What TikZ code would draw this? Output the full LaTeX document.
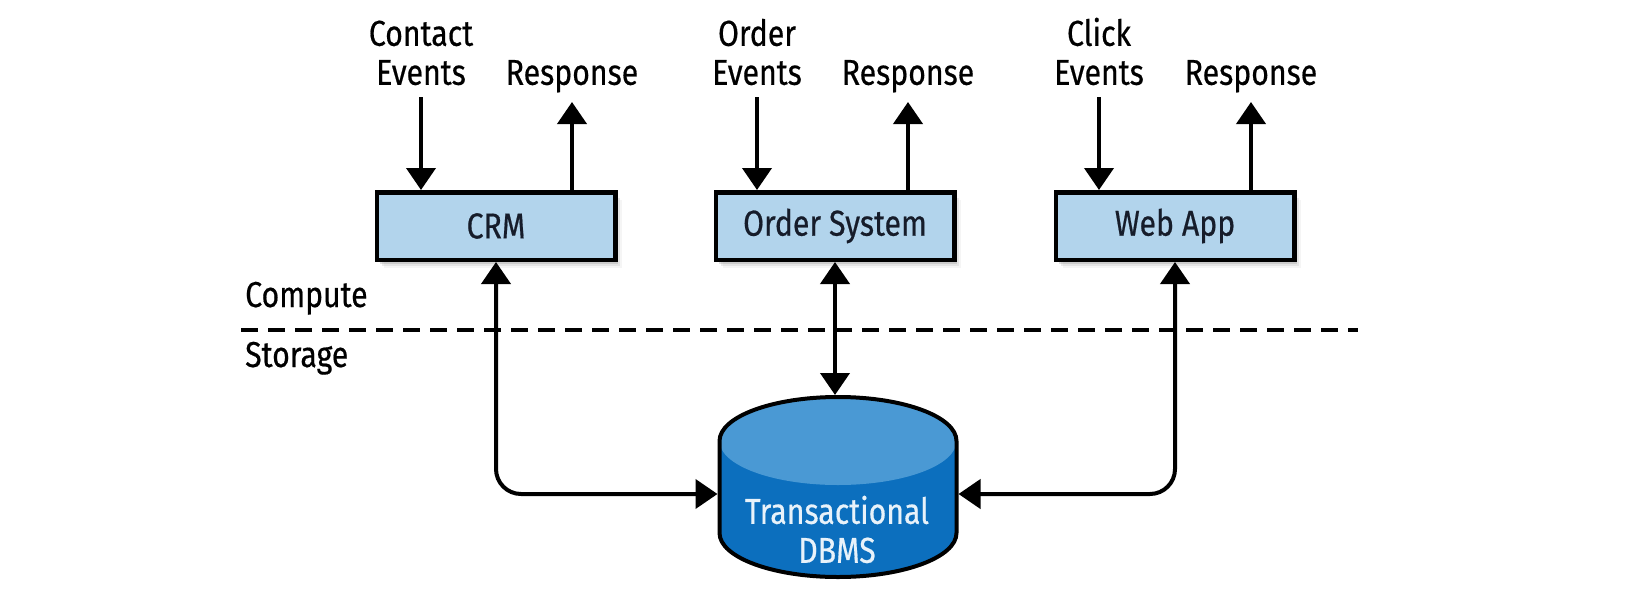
\documentclass[tikz,border=0pt]{standalone}
\usepackage{fontspec}
\setmainfont{Fira Sans}[FakeStretch=0.84,FakeBold=0.5]
\usetikzlibrary{arrows.meta,shadows}

\definecolor{boxfill}{RGB}{178,212,236}
\definecolor{boxtext}{RGB}{22,28,42}
\definecolor{dbside}{RGB}{12,111,190}
\definecolor{dbtop}{RGB}{74,153,212}
\definecolor{dbtext}{RGB}{232,242,250}

\begin{document}
\begin{tikzpicture}[x=1pt,y=-1pt,
  font=\fontsize{36}{39}\selectfont,
  sys/.style={draw=black, line width=4.5pt, fill=boxfill,
    minimum width=238.5pt, minimum height=67.5pt, inner sep=0pt, text=boxtext,
    drop shadow={shadow xshift=7pt, shadow yshift=-8pt, opacity=0.08},
    drop shadow={shadow xshift=5pt, shadow yshift=-6pt, opacity=0.15},
    drop shadow={shadow xshift=3pt, shadow yshift=-4pt, opacity=0.25}},
  lbl/.style={anchor=south, inner sep=0pt, text depth=0pt, align=center, text=black},
  tip/.tip={Triangle[width=29pt,length=22pt]},
  arr/.style={line width=4pt, -tip},
  darr/.style={line width=4pt, tip-tip, rounded corners=25pt},
]
\useasboundingbox (0,0) rectangle (1648,594);

% application systems
\node[sys] (crm) at (496,226) {CRM};
\node[sys] (ord) at (835,226) {Order System};
\node[sys] (web) at (1175,226) {Web App};

% incoming events and outgoing responses
\node[lbl] (crmin)  at (421,85)  {Contact\\Events};
\node[lbl] (crmout) at (572,85)  {Response};
\node[lbl] (ordin)  at (757,85)  {Order\\Events};
\node[lbl] (ordout) at (908,85)  {Response};
\node[lbl] (webin)  at (1099,85) {Click\\Events};
\node[lbl] (webout) at (1251,85) {Response};

\draw[arr] ([yshift=-12pt]crmin.south) -- (crmin.south |- crm.north);
\draw[arr] (crmout.south |- crm.north) -- ([yshift=-17pt]crmout.south);
\draw[arr] ([yshift=-12pt]ordin.south) -- (ordin.south |- ord.north);
\draw[arr] (ordout.south |- ord.north) -- ([yshift=-17pt]ordout.south);
\draw[arr] ([yshift=-12pt]webin.south) -- (webin.south |- web.north);
\draw[arr] (webout.south |- web.north) -- ([yshift=-17pt]webout.south);

% compute / storage divider
\coordinate (divL) at (241,330);
\coordinate (divR) at (1358,330);
\draw[line width=4pt, dash pattern=on 17pt off 10pt] (divL) -- (divR);
\node[anchor=base west, inner sep=0pt] (cmp) at (245,307) {Compute};
\node[anchor=base west, inner sep=0pt] (sto) at (245,367) {Storage};

% database cylinder
\fill[dbside] (719.5,441) -- (719.5,533)
  arc[start angle=180, end angle=360, x radius=118.5pt, y radius=44pt]
  -- (956.5,441)
  arc[start angle=0, end angle=180, x radius=118.5pt, y radius=44pt] -- cycle;
\fill[dbtop] (838,441) ellipse[x radius=118.5pt, y radius=44pt];
\draw[line width=4pt, line join=round] (719.5,441) -- (719.5,533)
  arc[start angle=180, end angle=360, x radius=118.5pt, y radius=44pt]
  -- (956.5,441)
  arc[start angle=0, end angle=180, x radius=118.5pt, y radius=44pt] -- cycle;
\node[inner sep=0pt, outer sep=0pt, minimum width=241pt, minimum height=184pt] (db) at (838,487) {};
\node[anchor=south, inner sep=0pt, text depth=0pt, align=center, text=dbtext] (dbl) at (837,563) {Transactional\\DBMS};

% system <-> database links
\draw[darr] (crm.south) |- ([yshift=-7pt]db.west);
\draw[darr] (ord.south) -- (ord.south |- db.north);
\draw[darr] (web.south) |- ([yshift=-7pt]db.east);
\end{tikzpicture}
\end{document}
